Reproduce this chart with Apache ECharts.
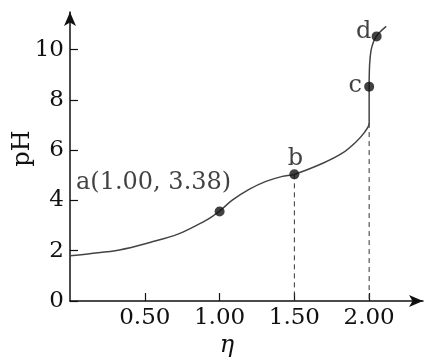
<!DOCTYPE html>
<html><head><meta charset="utf-8">
<script src="https://cdn.jsdelivr.net/npm/echarts@6/dist/echarts.min.js"></script>
<style>html,body{margin:0;padding:0;background:#fff}#c{width:433px;height:363px}</style>
</head><body><div id="c"></div>
<script>
// ---- data ----
const curveEta = [0, 0.13, 0.33, 0.535, 0.73, 0.885, 0.95, 1.00, 1.087, 1.20, 1.31, 1.42, 1.50, 1.69, 1.82, 1.91, 1.97, 2.00, 2.00, 2.003, 2.012, 2.028, 2.05, 2.08, 2.114];
const curvePH  = [1.80, 1.88, 2.03, 2.33, 2.68, 3.13, 3.36, 3.58, 4.02, 4.45, 4.76, 4.96, 5.04, 5.48, 5.88, 6.32, 6.72, 7.08, 8.53, 9.40, 9.95, 10.30, 10.55, 10.75, 10.93];
const pointEta = [1.00, 1.50, 2.00, 2.05];
const pointPH  = [3.56, 5.04, 8.53, 10.53];
const pointLabels = ['a(1.00, 3.38)', 'b', 'c', 'd'];
const dropEta = [1.50, 2.00];
const dropPH  = [5.04, 7.08];
const xTicks = [0.5, 1.0, 1.5, 2.0];
const yTicks = [0, 2, 4, 6, 8, 10];
const xName = 'η';
const yName = 'pH';

// ---- styling ----
const FONT = 'DejaVu Serif';
const labelOffsets = [[-66, -29], [1, -16], [-14, -1], [-13, -5]];
const labelSizes = [24, 24, 24, 24];
const ink = '#111';

const curveData = curveEta.map((x, i) => [x, curvePH[i]]);
const pointData = pointEta.map((x, i) => ({
  value: [x, pointPH[i]],
  label: { show: true, position: 'inside', formatter: pointLabels[i], offset: labelOffsets[i],
           color: ink, fontFamily: FONT, fontSize: labelSizes[i] }
}));
const dropSeries = dropEta.map((x, i) => ({
  type: 'line', data: [[x, dropPH[i]], [x, 0]], symbol: 'none', silent: true,
  lineStyle: { color: '#333', width: 1, type: [5, 4] }, z: 1
}));

const chart = echarts.init(document.getElementById('c'), null, { renderer: 'canvas' });
chart.setOption({
  animation: false,
  backgroundColor: '#fff',
  grid: { left: 70, right: 10, top: 12, bottom: 62, containLabel: false, outerBoundsMode: 'none' },
  xAxis: {
    type: 'value', min: 0, max: 2.36,
    name: xName, nameLocation: 'middle', nameGap: 33, nameMoveOverlap: false,
    nameTextStyle: { fontFamily: FONT, fontStyle: 'italic', fontSize: 24, color: ink, padding: [0, 39, 0, 0] },
    axisLine: { show: true, symbol: ['none', 'arrow'], symbolSize: [9, 14], lineStyle: { color: ink, width: 1.5 } },
    axisTick: { show: true, inside: true, length: 8, customValues: xTicks, lineStyle: { color: ink, width: 1.2 } },
    axisLabel: { customValues: xTicks, formatter: v => v.toFixed(2), margin: 6, color: ink, fontFamily: FONT, fontSize: 23 },
    splitLine: { show: false }
  },
  yAxis: {
    type: 'value', min: 0, max: 11.5,
    name: yName, nameLocation: 'middle', nameGap: 47, nameRotate: 90, nameMoveOverlap: false,
    nameTextStyle: { fontFamily: FONT, fontSize: 24, color: ink, align: 'center', verticalAlign: 'middle', padding: [0, 0, 0, 16] },
    axisLine: { show: true, symbol: ['none', 'arrow'], symbolSize: [9, 14], lineStyle: { color: ink, width: 1.5 } },
    axisTick: { show: true, inside: true, length: 8, customValues: yTicks, lineStyle: { color: ink, width: 1.2 } },
    axisLabel: { customValues: yTicks, formatter: v => String(v), margin: 6, color: ink, fontFamily: FONT, fontSize: 23 },
    splitLine: { show: false }
  },
  series: [
    ...dropSeries,
    { type: 'line', data: curveData, smooth: 0.35, symbol: 'none', silent: true,
      lineStyle: { color: '#444', width: 1.5 }, z: 2 },
    { type: 'scatter', data: pointData, symbolSize: 10, itemStyle: { color: '#111' }, z: 3 }
  ]
});
</script></body></html>
